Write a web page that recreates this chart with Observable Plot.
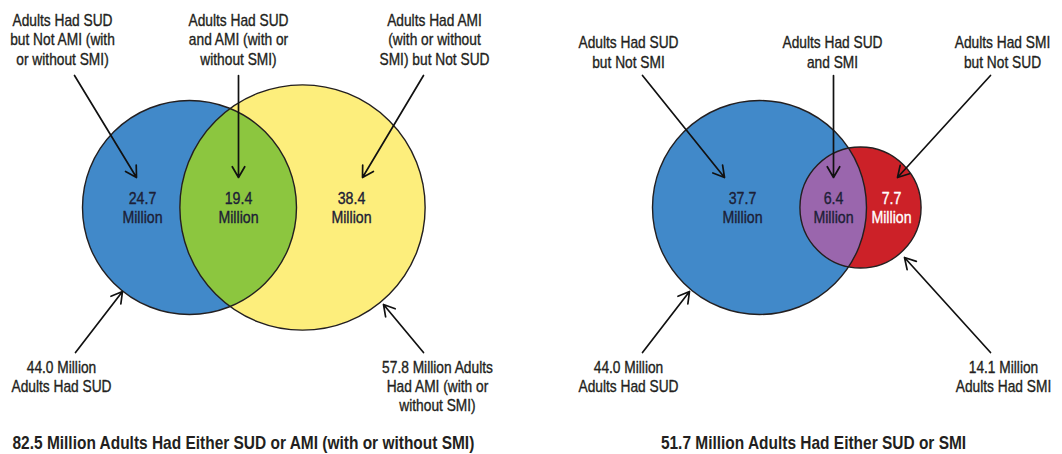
<!DOCTYPE html>
<html><head><meta charset="utf-8">
<script src="https://cdn.jsdelivr.net/npm/d3@7"></script>
<script src="https://cdn.jsdelivr.net/npm/@observablehq/plot@0.6"></script>
<style>
html,body{margin:0;padding:0;background:#fff}
#chart svg{display:block;font-family:"Liberation Sans",Arial,sans-serif}
</style></head><body><div id="chart"></div>
<script>
// ---------- DATA ----------
const setNames = ["SUD", "AMI", "SUD", "SMI"];
const setTotals = [44.0, 57.8, 44.0, 14.1]; // millions of adults
const setTotalLabels = [
  "44.0 Million\nAdults Had SUD",
  "57.8 Million Adults\nHad AMI (with or\nwithout SMI)",
  "44.0 Million\nAdults Had SUD",
  "14.1 Million\nAdults Had SMI"
];
const regionNames = [
  "Adults Had SUD\nbut Not AMI (with\nor without SMI)",
  "Adults Had SUD\nand AMI (with or\nwithout SMI)",
  "Adults Had AMI\n(with or without\nSMI) but Not SUD",
  "Adults Had SUD\nbut Not SMI",
  "Adults Had SUD\nand SMI",
  "Adults Had SMI\nbut Not SUD"
];
const regionValues = [24.7, 19.4, 38.4, 37.7, 6.4, 7.7];
const unionTotals = [82.5, 51.7];
const captionTexts = [
  "82.5 Million Adults Had Either SUD or AMI (with or without SMI)",
  "51.7 Million Adults Had Either SUD or SMI"
];

// ---------- LAYOUT / STYLE ----------
const circlePos = [[189, 207], [302, 207], [759, 207], [860, 207]];
const circleFill = ["#4189c9", "#fdee7c", "#4189c9", "#cc2128"];
const overlapSpec = [
  {of: 0, clip: 1, fill: "#8cc63f"},
  {of: 3, clip: 2, fill: "#9a66ad"}
];
const valuePos = [[142, 206.5], [238, 206.5], [351, 206.5], [742, 206.5], [833, 206.5], [891, 206.5]];
const valueColor = ["#1c2036", "#1c2036", "#1c2036", "#1c2036", "#1c2036", "#ffffff"];
const regionLabelPos = [[62, 38.5], [238, 38.5], [434, 38.5], [628, 51.5], [832, 51.5], [1002, 51.5]];
const regionArrows = [[74, 75, 136, 177], [238, 75, 238, 177], [423, 75, 362, 177],
                      [642, 75, 724, 177], [833, 75, 833, 177], [990, 75, 897, 177]];
const totalLabelPos = [[61, 376], [437, 385.5], [628, 376], [1003, 376]];
const totalArrows = [[75, 352, 122, 291], [423, 352, 383, 304], [642, 352, 689, 291], [990, 352, 904, 257]];
const captionPos = [[12, 443], [813, 443]];
const condense = 0.86; // horizontal squeeze to mimic a condensed face

// ---------- BUILD TABLES ----------
const circles = setNames.map((name, i) => ({
  name, total: setTotals[i], cx: circlePos[i][0], cy: circlePos[i][1], fill: circleFill[i]
}));
const overlaps = overlapSpec.map(o => ({...circles[o.of], fill: o.fill, clipTo: circles[o.clip]}));
const values = regionValues.map((v, i) => ({
  text: `${v.toFixed(1)}\nMillion`, x: valuePos[i][0], y: valuePos[i][1], color: valueColor[i]
}));
const regionLabels = regionNames.map((t, i) => ({text: t, x: regionLabelPos[i][0], y: regionLabelPos[i][1]}));
const totalLabels = setTotalLabels.map((t, i) => ({text: t, x: totalLabelPos[i][0], y: totalLabelPos[i][1]}));
const arrows = [...regionArrows, ...totalArrows].map(([x1, y1, x2, y2]) => ({x1, y1, x2, y2}));
const captions = captionTexts.map((t, i) => ({text: t, total: unionTotals[i], x: captionPos[i][0], y: captionPos[i][1]}));

const textColor = "#231f20";
const heavy = {strokeWidth: 0.35, strokeLinejoin: "round"};

const plot = Plot.plot({
  width: 1062, height: 454, margin: 0,
  x: {domain: [0, 1062], range: [0, 1062], axis: null},
  y: {domain: [0, 454], range: [0, 454], axis: null},
  r: {type: "sqrt", domain: [0, 44], range: [0, 107]},
  color: {type: "identity"},
  style: {background: "#fff", fontFamily: '"Liberation Sans",Arial,sans-serif'},
  marks: [
    Plot.dot(circles, {x: "cx", y: "cy", r: "total", fill: "fill", stroke: null, sort: null}),
    Plot.dot(overlaps, {x: "cx", y: "cy", r: "total", fill: "fill", stroke: null, sort: null, ariaDescription: "overlap"}),
    Plot.dot(circles, {x: "cx", y: "cy", r: "total", fill: "none", stroke: "#231f20", strokeWidth: 1.4, sort: null}),
    Plot.arrow(arrows, {x1: "x1", y1: "y1", x2: "x2", y2: "y2", bend: 0, stroke: "#111", strokeWidth: 1.7, headLength: 11}),
    Plot.text(values, {x: "x", y: "y", text: "text", fill: "color", stroke: "color", ...heavy, fontSize: 16.5, lineHeight: 1.17}),
    Plot.text(regionLabels, {x: "x", y: "y", text: "text", fill: textColor, stroke: textColor, ...heavy, fontSize: 16, lineHeight: 1.22}),
    Plot.text(totalLabels, {x: "x", y: "y", text: "text", fill: textColor, stroke: textColor, ...heavy, fontSize: 16, lineHeight: 1.18}),
    Plot.text(captions.slice(0, 1), {x: "x", y: "y", text: "text", fill: textColor, fontSize: 18, fontWeight: "bold", textAnchor: "start"}),
    Plot.text(captions.slice(1), {x: "x", y: "y", text: "text", fill: textColor, fontSize: 18, fontWeight: "bold", textAnchor: "middle"})
  ]
});

// clip overlap discs to the partner circle
const xs = plot.scale("x"), ys = plot.scale("y"), rs = plot.scale("r");
const svg = d3.select(plot);
const defs = svg.insert("defs", ":first-child");
overlaps.forEach((o, i) => {
  defs.append("clipPath").attr("id", "ovclip" + i)
    .append("circle")
    .attr("cx", xs.apply(o.clipTo.cx))
    .attr("cy", ys.apply(o.clipTo.cy))
    .attr("r", rs.apply(o.clipTo.total));
});
let g = svg.select('g[aria-description="overlap"]');
if (g.empty()) g = d3.select(svg.selectAll('g[aria-label="dot"]').nodes()[1]);
g.selectAll("circle").each(function(d, i) { this.setAttribute("clip-path", `url(#ovclip${i})`); });

// condensed look: squeeze every text horizontally about its anchor
svg.selectAll("text").each(function() {
  let t = this.getAttribute("transform");
  const xa = this.getAttribute("x"), ya = this.getAttribute("y");
  if (!t && xa != null) {
    t = `translate(${xa},${ya || 0})`;
    this.removeAttribute("x"); this.removeAttribute("y");
  }
  this.setAttribute("transform", `${t || ""} scale(${condense},1)`);
});

document.getElementById("chart").appendChild(plot);
</script></body></html>
